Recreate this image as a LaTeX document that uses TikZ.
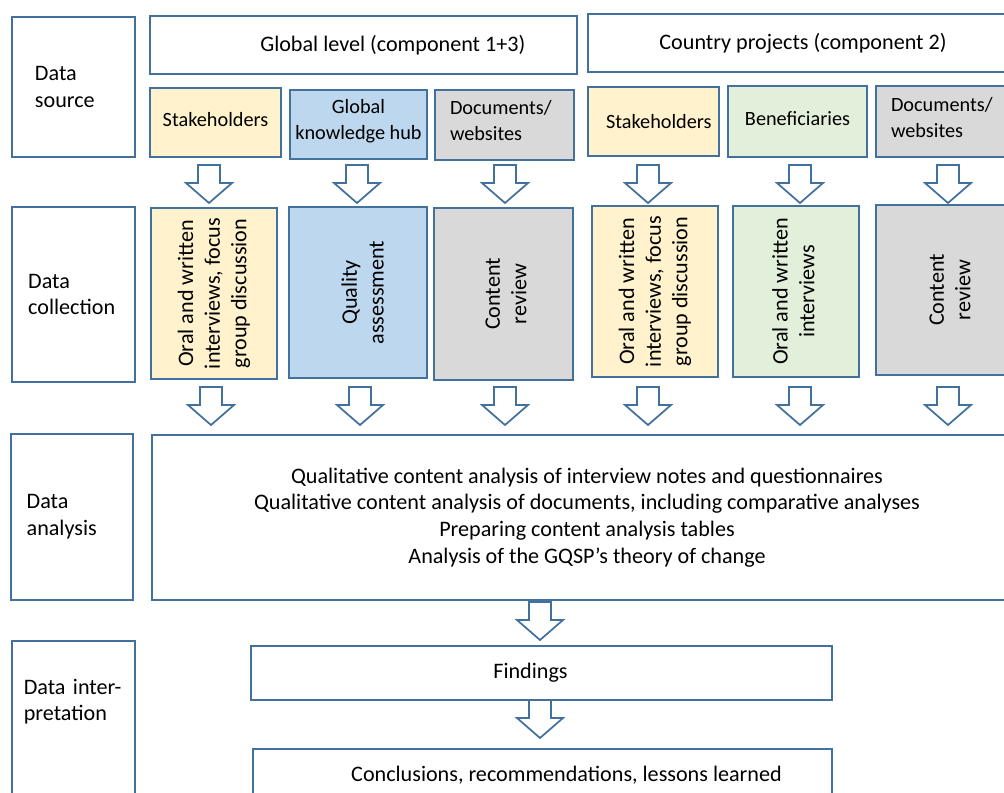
\documentclass[tikz,border=0pt]{standalone}
\usepackage{fontspec}
\setmainfont{Carlito}
\definecolor{bord}{HTML}{41719C}
\definecolor{fyel}{HTML}{FFF2CC}
\definecolor{fblu}{HTML}{BDD7EE}
\definecolor{fgry}{HTML}{D9D9D9}
\definecolor{fgrn}{HTML}{E2EFDA}
\newcommand\pbox[7]{\node[box,#6,anchor=north west,minimum width={(#4-#2)*0.75pt},minimum height={(#5-#3)*0.75pt}] (#1) at (#2,#3) {#7};}
\newcommand\rotbox[7]{\node[box,#6,rotate=90,minimum width={(#5-#3)*0.75pt},minimum height={(#4-#2)*0.75pt}] (#1) at ({(#2+#4)/2},{(#3+#5)/2}) {#7};}
\tikzset{
  box/.style={draw=bord,line width=1.5pt,fill=white,inner sep=0pt,align=center,
    font=\fontsize{16.6}{20}\selectfont},
  src/.style={font=\fontsize{15.2}{19.5}\selectfont},
  lbl/.style={align=left},
  arrowst/.style={draw=bord,line width=1.3pt,fill=white,line join=miter},
  blockarrow/.pic={\draw[arrowst] (-11,0) -- (11,0) -- (11,18) -- (23,18) -- (0,38) -- (-23,18) -- (-11,18) -- cycle;}
}
\begin{document}
\begin{tikzpicture}[x=0.75pt,y=-0.75pt]
\clip (0,0) rectangle (1004,793);
\fill[white] (0,0) rectangle (1004,793);
% row labels
\pbox{ds}{11}{16}{134}{156}{lbl,text width=57.75pt}{Data\\source}
\pbox{dc}{11}{206}{134}{381}{lbl,text width=68pt}{Data\\collection}
\pbox{da}{10}{433}{132}{599}{lbl,text width=68pt}{Data\\analysis}
\pbox{di}{11}{640}{134}{815}{lbl,text width=74.5pt}{\mbox{Data inter-}\\pretation\\[23pt]\mbox{}}
% headers
\pbox{gl}{149}{15}{576}{73}{}{\hspace*{44pt}Global level (component 1+3)}
\pbox{cp}{587}{13}{1017}{71}{}{Country projects (component 2)}
% sources
\pbox{s1}{149}{87}{280}{156}{src,fill=fyel,text depth=4.5pt}{Stakeholders}
\pbox{kh}{289}{89}{426}{158}{src,fill=fblu,text depth=8pt}{Global\\knowledge hub}
\pbox{d1}{434}{89}{573}{159}{src,fill=fgry,lbl,text width=81.75pt,text depth=27pt}{Documents/\\websites}
\pbox{s2}{587}{86}{718}{155}{src,fill=fyel}{\hspace*{8pt}Stakeholders}
\pbox{be}{727}{85}{866}{156}{src,fill=fgrn,text depth=4.5pt}{Beneficiaries}
\pbox{d2}{875}{85}{1030}{156}{src,fill=fgry,lbl,text width=93.75pt,text depth=25.5pt}{Documents/\\websites}
% collection
\rotbox{o1}{151}{208}{277}{379}{fill=fyel}{Oral and written\\interviews, focus\\group discussion}
\rotbox{qa}{289}{207}{427}{378}{fill=fblu,text height=38.5pt}{Quality\\assessment}
\rotbox{c1}{434}{208}{573}{380}{fill=fgry,text height=34.5pt}{Content\\review}
\rotbox{o2}{592}{206}{718}{377}{fill=fyel}{Oral and written\\interviews, focus\\group discussion}
\rotbox{o3}{733}{206}{859}{377}{fill=fgrn,text depth=4pt}{Oral and written\\interviews}
\rotbox{c2}{876}{205}{1024}{375}{fill=fgry}{Content\\review}
% analysis
\pbox{an}{151}{434}{1021}{599}{}{Qualitative content analysis of interview notes and questionnaires\\
Qualitative content analysis of documents, including comparative analyses\\
Preparing content analysis tables\\
Analysis of the GQSP’s theory of change}
% interpretation
\pbox{fi}{250}{645}{831}{699}{}{\hspace*{-16.5pt}Findings}
\pbox{co}{252}{748}{831}{800}{}{\hspace*{36pt}Conclusions, recommendations, lessons learned}
% block arrows
\foreach \x in {209,357,505,648,800,948} \pic at (\x,165) {blockarrow};
\foreach \x in {211,360,505,648,800,948} \pic at (\x,387) {blockarrow};
\pic at (540,602) {blockarrow};
\pic at (540,700) {blockarrow};
\end{tikzpicture}
\end{document}
